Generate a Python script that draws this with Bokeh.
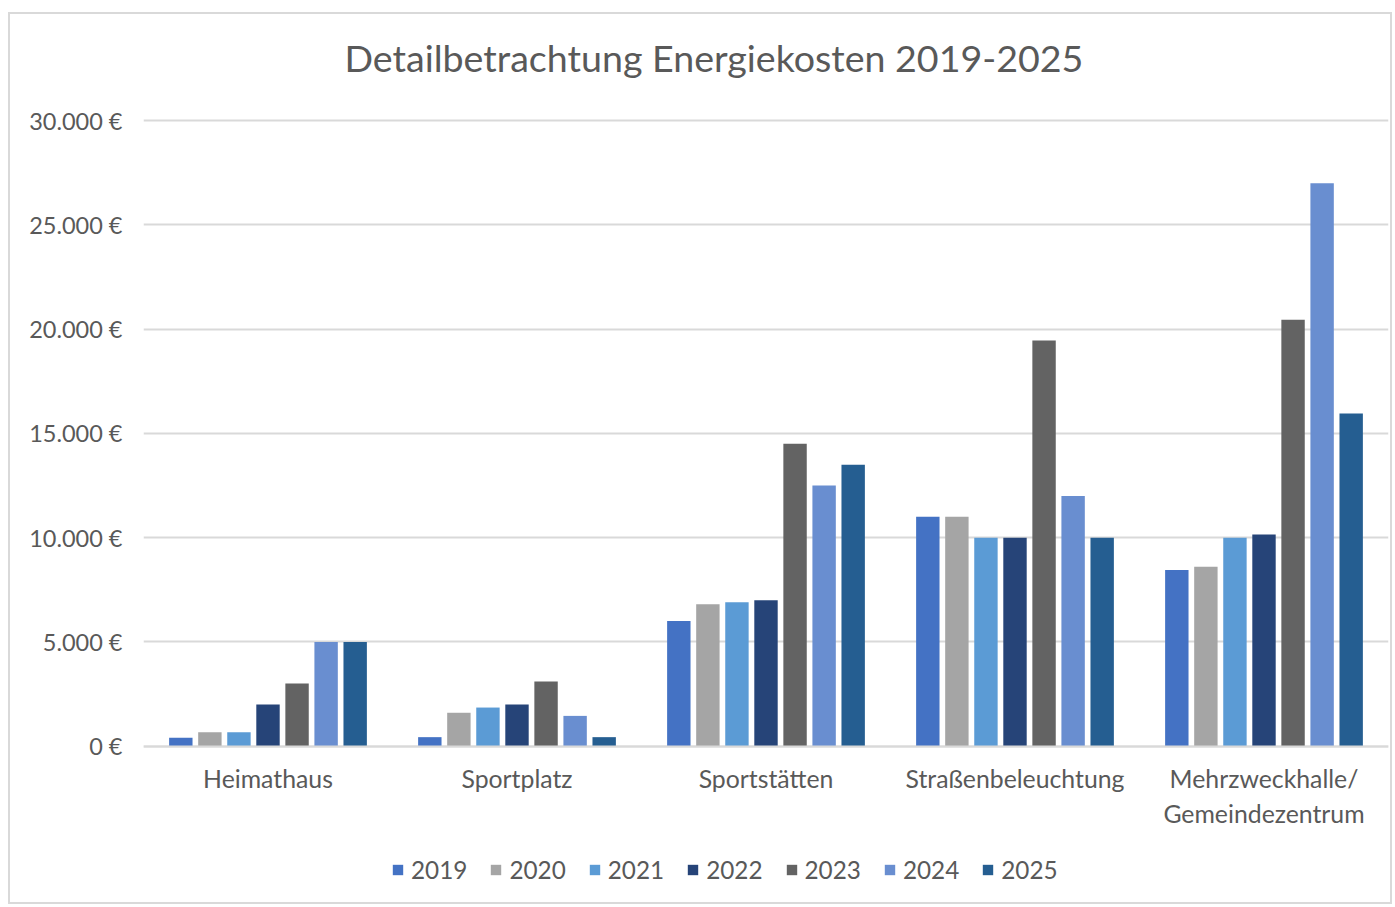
from bokeh.plotting import figure
from bokeh.models import (ColumnDataSource, FactorRange, Range1d, CustomJSTickFormatter,
                          Legend, LegendItem, CategoricalAxis, FixedTicker, Title)
from bokeh.transform import dodge
from bokeh.embed import file_html
from bokeh.resources import INLINE

categories = ["Heimathaus", "Sportplatz", "Sportstätten", "Straßenbeleuchtung",
              "Mehrzweckhalle/\nGemeindezentrum"]
years = ["2019", "2020", "2021", "2022", "2023", "2024", "2025"]
v2019 = [400, 430, 6000, 11000, 8450]
v2020 = [660, 1600, 6800, 11000, 8600]
v2021 = [660, 1850, 6900, 10000, 10000]
v2022 = [2000, 2000, 7000, 10000, 10150]
v2023 = [3000, 3100, 14500, 19450, 20450]
v2024 = [5000, 1450, 12500, 12000, 27000]
v2025 = [5000, 430, 13500, 10000, 15950]
colors = ["#4472C4", "#A5A5A5", "#5B9BD5", "#264478", "#636363", "#698ED0", "#255E91"]
series = [v2019, v2020, v2021, v2022, v2023, v2024, v2025]
yticks = [0, 5000, 10000, 15000, 20000, 25000, 30000]

FONT = "Lato"
TXT = "#595959"

# layout (pixels)
FRAME_TOP_PX = 117
ZERO_PX = 745
FRAME_BOTTOM_PX = 893
Y_END = 30200
px_per_unit = (ZERO_PX - FRAME_TOP_PX) / Y_END
y_start = -(FRAME_BOTTOM_PX - ZERO_PX) / px_per_unit

data = {"cat": categories}
for y, s in zip(years, series):
    data["y" + y] = s
source = ColumnDataSource(data)

p = figure(x_range=FactorRange(*categories), y_range=Range1d(y_start, Y_END),
           width=1384, height=892, output_backend="svg", toolbar_location=None,
           x_axis_location=None,
           min_border_left=133, min_border_right=6, min_border_top=102,
           min_border_bottom=12)
p.styles = {"border": "2px solid #D9D9D9", "margin-top": "12px", "margin-left": "8px"}

p.title.text = "Detailbetrachtung Energiekosten 2019-2025"
p.title.align = "left"
p.title.offset = 201
p.title.text_font = FONT
p.title.text_font_size = "37.6px"
p.title.text_font_style = "normal"
p.title.text_color = TXT
p.title.vertical_align = "top"
p.title.standoff = 38

spacer = Title(text=" ", text_font_size="12px", standoff=0)
p.add_layout(spacer, "above")

step = 0.1167
bw = 0.094
items = []
for i, (y, c) in enumerate(zip(years, colors)):
    off = (i - 3) * step
    r = p.vbar(x=dodge("cat", off, range=p.x_range), top="y" + y, width=bw,
               source=source, fill_color=c, line_color=None)
    items.append(LegendItem(label=y, renderers=[r]))

p.xgrid.grid_line_color = None
p.ygrid.grid_line_color = "#D9D9D9"
p.ygrid.grid_line_width = 2
p.ygrid.ticker = FixedTicker(ticks=yticks)
p.outline_line_color = None

p.yaxis.axis_line_color = None
p.yaxis.major_tick_line_color = None
p.yaxis.minor_tick_line_color = None
p.yaxis.major_label_text_font = FONT
p.yaxis.major_label_text_font_size = "23.5px"
p.yaxis.major_label_text_color = TXT
p.yaxis.major_label_standoff = 15
p.yaxis.ticker = FixedTicker(ticks=yticks)
p.yaxis.formatter = CustomJSTickFormatter(code="""
return Math.round(tick).toString().replace(/\\B(?=(\\d{3})+(?!\\d))/g, '.') + ' €';
""")

xaxis = CategoricalAxis(fixed_location=0)
xaxis.axis_line_color = "#D9D9D9"
xaxis.axis_line_width = 2
xaxis.major_tick_line_color = None
xaxis.minor_tick_line_color = None
xaxis.major_label_text_font = FONT
xaxis.major_label_text_font_size = "24.8px"
xaxis.major_label_text_color = TXT
xaxis.major_label_standoff = 12
p.add_layout(xaxis, "below")

legend = Legend(items=items, orientation="horizontal", location=(248, 10))
legend.label_text_font = FONT
legend.label_text_font_size = "24.3px"
legend.label_text_color = TXT
legend.glyph_width = 13
legend.glyph_height = 13
legend.label_standoff = 7
legend.spacing = 22
legend.padding = 0
legend.border_line_color = None
legend.background_fill_alpha = 0
p.add_layout(legend, "center")

open("out.html", "w").write(file_html(p, INLINE))
